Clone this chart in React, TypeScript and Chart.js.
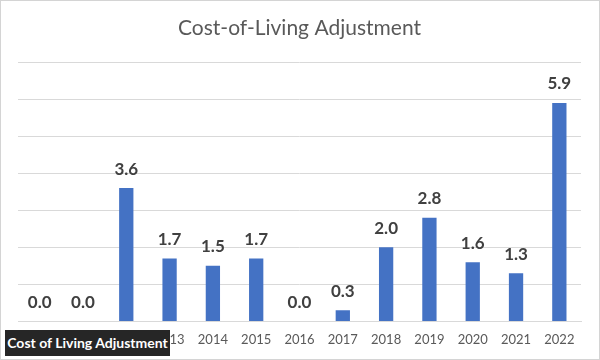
import React, { useEffect, useRef } from "react";
import { Chart, registerables } from "chart.js";

Chart.register(...registerables);

const years = ["2010", "2011", "2012", "2013", "2014", "2015", "2016", "2017", "2018", "2019", "2020", "2021", "2022"];
const colaValues = [0.0, 0.0, 3.6, 1.7, 1.5, 1.7, 0.0, 0.3, 2.0, 2.8, 1.6, 1.3, 5.9];
const chartTitle = "Cost-of-Living Adjustment";
const captionText = "Cost of Living Adjustment";

const FONT = "Lato, 'Open Sans', sans-serif";

const dataLabelPlugin = {
  id: "dataLabels",
  afterDatasetsDraw(chart: any) {
    const ctx = chart.ctx;
    const meta = chart.getDatasetMeta(0);
    ctx.save();
    ctx.font = `bold 17px ${FONT}`;
    ctx.fillStyle = "#404040";
    ctx.textAlign = "center";
    ctx.textBaseline = "middle";
    meta.data.forEach((bar: any, i: number) => {
      const v = colaValues[i];
      ctx.fillText(v.toFixed(1), bar.x, bar.y - 19);
    });
    ctx.restore();
  },
};

const bgPlugin = {
  id: "bg",
  beforeDraw(chart: any) {
    const ctx = chart.ctx;
    ctx.save();
    ctx.fillStyle = "#ffffff";
    ctx.fillRect(0, 0, chart.width, chart.height);
    ctx.restore();
  },
};

export default function App() {
  const ref = useRef<HTMLCanvasElement | null>(null);
  useEffect(() => {
    if (!ref.current) return;
    const chart = new Chart(ref.current, {
      type: "bar",
      data: {
        labels: years,
        datasets: [
          {
            label: captionText,
            data: colaValues,
            backgroundColor: "#4472C4",
            categoryPercentage: 1,
            barPercentage: 0.33,
          },
        ],
      },
      options: {
        animation: false,
        responsive: false,
        layout: { padding: { left: 18, right: 19, top: 0, bottom: 1 } },
        plugins: {
          legend: { display: false },
          tooltip: { enabled: false },
          title: {
            display: true,
            text: chartTitle,
            color: "#595959",
            font: { family: FONT, size: 21, weight: "normal" },
            padding: { top: 16, bottom: 21 },
          },
        },
        scales: {
          x: {
            grid: { display: false, drawTicks: false },
            border: { display: true, color: "#d9d9d9" },
            ticks: { color: "#595959", font: { family: FONT, size: 13 }, padding: 11, maxRotation: 0, autoSkip: false },
          },
          y: {
            min: 0,
            max: 7,
            ticks: { display: false, stepSize: 1 },
            grid: { color: "#d9d9d9", drawTicks: false },
            border: { display: false },
          },
        },
      },
      plugins: [bgPlugin, dataLabelPlugin],
    });
    return () => chart.destroy();
  }, []);
  return (
    <div style={{ position: "fixed", left: 0, top: 0, width: 600, height: 360, background: "#fff" }}>
      <canvas ref={ref} width={600} height={360} style={{ display: "block" }} />
      <div
        style={{
          position: "absolute",
          inset: 0,
          border: "1px solid #d4d4d4",
          boxSizing: "border-box",
          pointerEvents: "none",
        }}
      />
      <div
        style={{
          position: "absolute",
          left: 5,
          top: 330,
          width: 165,
          height: 26,
          background: "#262626",
          color: "#ffffff",
          fontFamily: FONT,
          fontWeight: "bold",
          fontSize: 14,
          lineHeight: "26px",
          textAlign: "center",
          whiteSpace: "nowrap",
        }}
      >
        {captionText}
      </div>
    </div>
  );
}
